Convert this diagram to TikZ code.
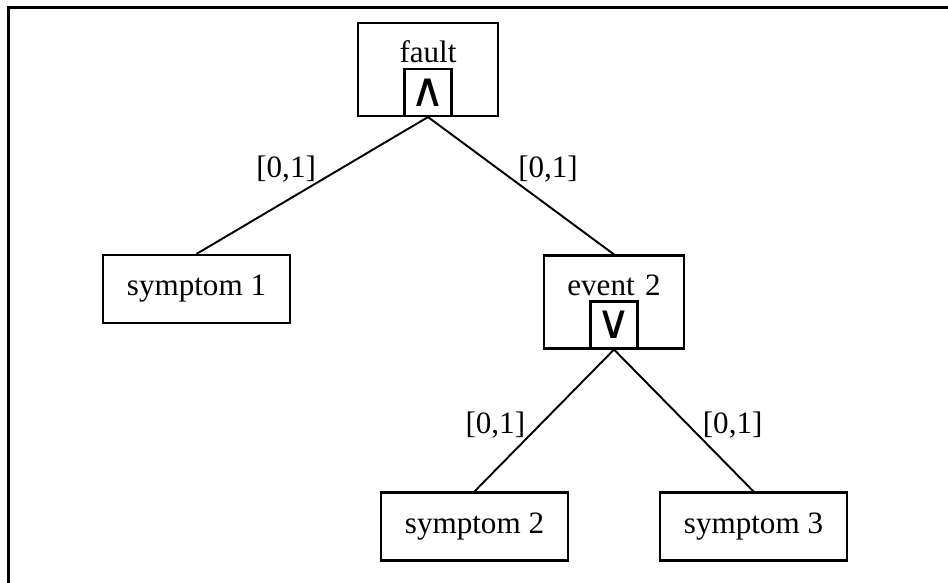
\documentclass[tikz,border=0pt]{standalone}
\usepackage{fontspec}
\setmainfont{Liberation Serif}
\newfontfamily\gatefont{DejaVu Sans}
\usetikzlibrary{positioning}

\begin{document}
\begin{tikzpicture}[
  leaf/.style={draw,line width=1.2pt,minimum width=3.74cm,minimum height=1.36cm,inner sep=0pt,
    font=\fontsize{17.7}{20}\selectfont},
  event/.style={draw,line width=1.2pt,text width=2.8cm,align=center,text height=0.8cm,
    text depth=1.06cm,inner sep=0pt,font=\fontsize{17.7}{20}\selectfont},
  gate/.style={draw,line width=1.2pt,minimum size=0.94cm,inner sep=0pt,anchor=south,
    font=\gatefont\fontsize{27}{27}\selectfont},
  link/.style={line width=1.1pt},
  bound/.style={inner sep=0pt,font=\fontsize{17.7}{20}\selectfont}
]
\useasboundingbox (0,0) rectangle (18.96,11.66);
\draw[line width=1.6pt] (0.17,0) |- (18.96,11.51);

\node[event] (fault) at (8.56,10.27) {fault};
\node[gate] (fand) at (fault.south) {∧};
\node[leaf] (sym1) at (3.93,5.88) {symptom 1};
\node[event] (ev2) at (12.28,5.62) {event 2};
\node[gate] (eor) at (ev2.south) {∨};
\node[leaf] (sym2) at (9.49,1.13) {symptom 2};
\node[leaf] (sym3) at (15.07,1.13) {symptom 3};

\draw[link] (fand.south) -- node[bound,pos=0.48,anchor=south east] (b1) {[0,1]} (sym1.north);
\draw[link] (fand.south) -- node[bound,pos=0.48,anchor=south west] (b2) {[0,1]} (ev2.north);
\draw[link] (eor.south) -- node[bound,pos=0.63,anchor=south east] (b3) {[0,1]} (sym2.north);
\draw[link] (eor.south) -- node[bound,pos=0.63,anchor=south west] (b4) {[0,1]} (sym3.north);
\end{tikzpicture}
\end{document}
